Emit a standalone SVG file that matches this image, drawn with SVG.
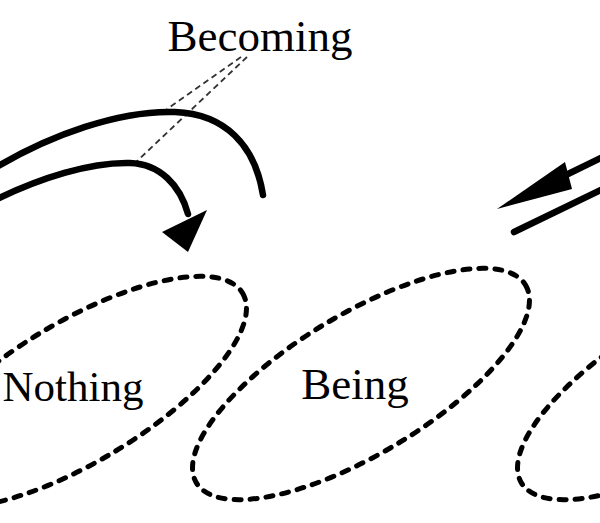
<svg xmlns="http://www.w3.org/2000/svg" width="600" height="523" viewBox="0 0 600 523">
  <style>
    .lbl { font-family: "Liberation Serif", "Times New Roman", serif; font-size: 45px; fill: #000; text-anchor: middle; }
    .loop { fill: none; stroke: #000; stroke-width: 5; stroke-dasharray: 7 9; stroke-linecap: round; }
    .arc { fill: none; stroke: #000; stroke-width: 6.5; stroke-linecap: round; }
    .head { fill: #000; stroke: none; }
    .lead { fill: none; stroke: #333; stroke-width: 1.8; stroke-dasharray: 6 4; }
  </style>
  <rect width="600" height="523" fill="#fff"/>
  <g id="node-nothing">
    <ellipse class="loop" cx="78" cy="392" rx="192" ry="70" transform="rotate(-31 78 392)"/>
    <text class="lbl" x="73" y="401" style="font-size:43px">Nothing</text>
  </g>
  <g id="node-being">
    <ellipse class="loop" cx="361" cy="384" rx="192" ry="70" transform="rotate(-31 361 384)"/>
    <text class="lbl" x="355" y="399">Being</text>
  </g>
  <g id="node-next">
    <ellipse class="loop" cx="686" cy="384" rx="192" ry="70" transform="rotate(-31 686 384)"/>
  </g>
  <g id="node-becoming">
    <text class="lbl" x="260" y="51">Becoming</text>
  </g>
  <g id="connectors">
    <path class="lead" d="M241,57 L163,112"/>
    <path class="lead" d="M247,57 L135,163"/>
    <path class="arc" d="M-5,168 C50,135 120,110 175,112 C225,114 255,145 263,195"/>
    <path class="arc" d="M-5,200 C40,178 90,162 130,163 C160,164 180,185 188,214"/>
    <polygon class="head" points="188,252 162,232 207,210"/>
    <path class="arc" d="M605,156 L568,174"/>
    <polygon class="head" points="497,209 565,162 572,189"/>
    <path class="arc" d="M605,188 L514,232"/>
  </g>
</svg>
